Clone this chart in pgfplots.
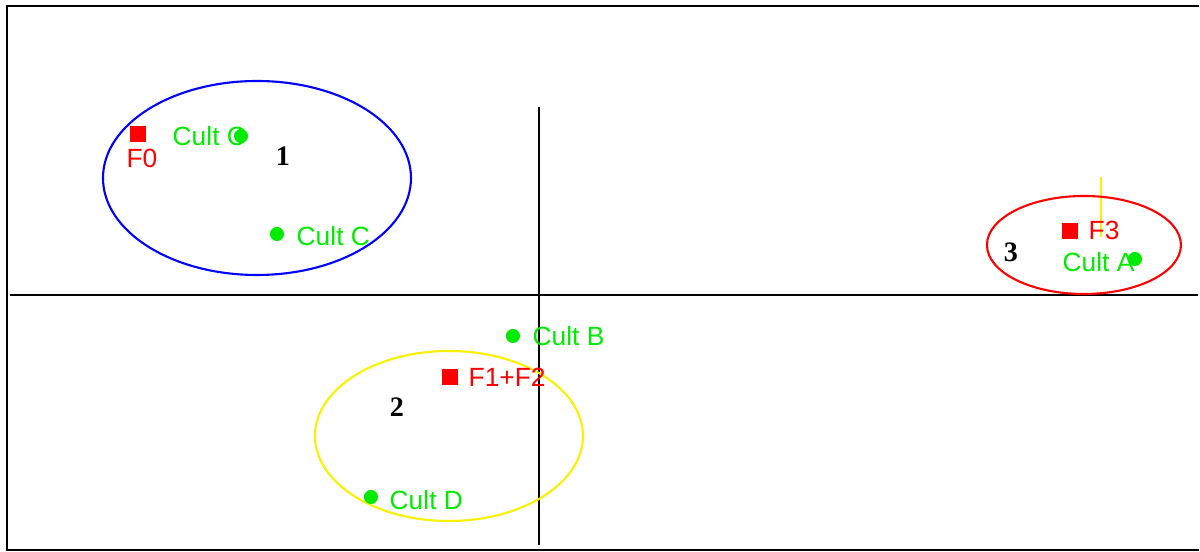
\documentclass[border=0pt]{standalone}
\usepackage{fontspec}
\setmainfont{Liberation Serif}
\newfontfamily\arial{Liberation Sans}
\usepackage{pgfplots}
\pgfplotsset{compat=1.18}
\definecolor{cgreen}{RGB}{0,235,0}
\definecolor{cyellow}{RGB}{250,240,0}
\begin{document}
\begin{tikzpicture}[lab/.style={inner sep=0pt, font=\arial\fontsize{7.5}{9}\selectfont},
  num/.style={inner sep=0pt, anchor=base, font=\bfseries\fontsize{8}{9}\selectfont}]
\begin{axis}[
  x=0.01cm, y=0.01cm, y dir=reverse,
  xmin=0, xmax=1200, ymin=0, ymax=552,
  axis lines=none, clip=false,
  scale only axis,
]
\path[draw=none] (rel axis cs:0,0) rectangle (rel axis cs:1,1);
% frame
\addplot[black, line width=0.6pt, mark=none] coordinates {(1199,6) (7,6) (7,550) (1199,550)};
% axes through origin
\addplot[black, line width=0.6pt, mark=none] coordinates {(10,295) (1198,295)};
\addplot[black, line width=0.6pt, mark=none] coordinates {(539,107) (539,545)};
% small yellow line
\addplot[cyellow, line width=0.35pt, mark=none] coordinates {(1101,177) (1101,237)};
% ellipses
\draw[blue, line width=0.6pt] (axis cs:257,178) ellipse [x radius=154, y radius=97];
\draw[cyellow, line width=0.6pt] (axis cs:449,436) ellipse [x radius=134, y radius=85];
\draw[red, line width=0.6pt] (axis cs:1084,245) ellipse [x radius=97, y radius=49];
% modalities (red squares)
\addplot[only marks, mark=square*, mark size=2.1pt, red, mark options={draw=red, fill=red}]
  coordinates {(138,134) (450,377) (1070,231)};
% cultures (green dots)
\addplot[only marks, mark=*, mark size=1.8pt, cgreen, mark options={draw=cgreen, fill=cgreen}]
  coordinates {(241,136) (277,234) (513,336) (371,497) (1135,259)};
% labels
\node[lab, red, anchor=base] at (axis cs:142,168) {F0};
\node[lab, red, anchor=base west] at (axis cs:468,387) {F1+F2};
\node[lab, red, anchor=base west] at (axis cs:1088,240) {F3};
\node[lab, cgreen, anchor=base west] at (axis cs:172,146) {Cult C};
\node[lab, cgreen, anchor=base west] at (axis cs:296,246) {Cult C};
\node[lab, cgreen, anchor=base west] at (axis cs:532,346) {Cult B};
\node[lab, cgreen, anchor=base west] at (axis cs:389,510) {Cult D};
\node[lab, cgreen, anchor=base west] at (axis cs:1062,272) {Cult A};
\node[num] at (axis cs:283,166) {1};
\node[num] at (axis cs:397,417) {2};
\node[num] at (axis cs:1011,262) {3};
\end{axis}
\end{tikzpicture}
\end{document}
